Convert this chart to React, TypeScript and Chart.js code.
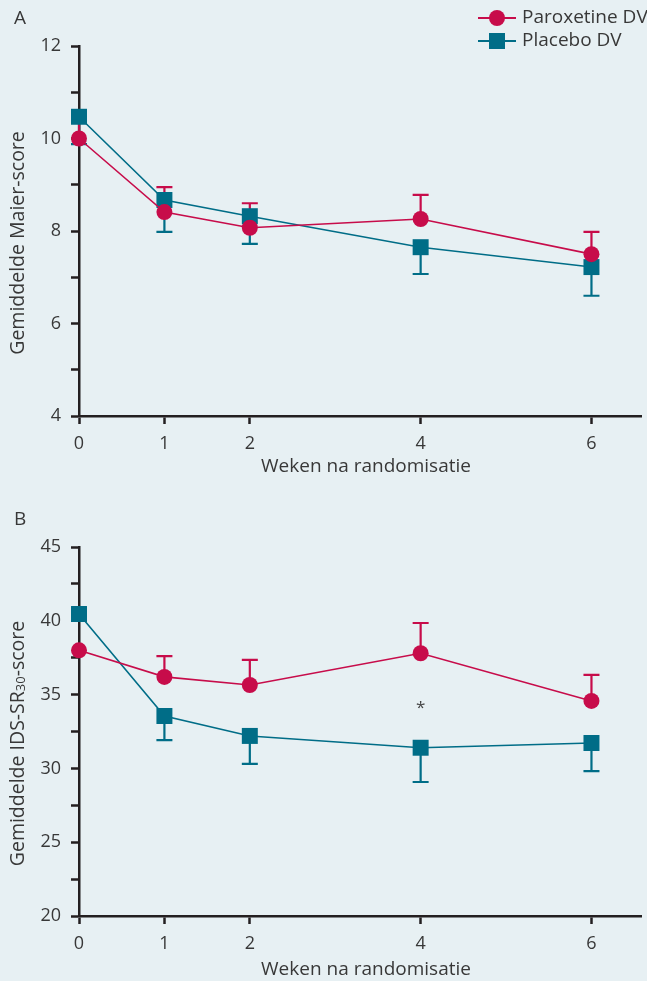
import React, { useEffect, useRef } from "react";
import { Chart, registerables } from "chart.js";

Chart.register(...registerables);

// ---- Data ----
const weeks = [0, 1, 2, 4, 6];
const xTickValues = [0, 1, 2, 4, 6];

// Panel A: Gemiddelde Maier-score
const maierParoxetine = [10.0, 8.41, 8.07, 8.26, 7.5];
const maierParoxetineUpper = [10.55, 8.95, 8.6, 8.78, 7.98];
const maierPlacebo = [10.47, 8.67, 8.32, 7.65, 7.22];
const maierPlaceboLower = [9.88, 7.98, 7.72, 7.07, 6.6];

// Panel B: Gemiddelde IDS-SR30-score
const idsParoxetine = [38.0, 36.2, 35.65, 37.8, 34.57];
const idsParoxetineUpper = [38.0, 37.6, 37.35, 39.85, 36.33];
const idsPlacebo = [40.46, 33.55, 32.2, 31.4, 31.72];
const idsPlaceboLower = [40.46, 31.92, 30.3, 29.08, 29.82];

const seriesNames = ["Paroxetine DV", "Placebo DV"];
const xTitle = "Weken na randomisatie";

const RED = "#c70c4a";
const TEAL = "#006d87";
const AXIS = "#231f20";
const TEXT = "#383838";
const BG = "#e7f0f3";
const FONT = "'Open Sans', Lato, sans-serif";

type PanelProps = {
  letter: string;
  yMin: number;
  yMax: number;
  yStep: number;
  yLabelStep: number;
  parox: number[];
  paroxUpper: number[];
  placebo: number[];
  placeboLower: number[];
  yTitleParts: { text: string; sub?: boolean }[];
  height: number;
  areaTop: number;
  areaBottom: number;
  showLegend: boolean;
  star?: { x: number; y: number };
};

function Panel(p: PanelProps) {
  const ref = useRef<HTMLCanvasElement | null>(null);
  useEffect(() => {
    if (!ref.current) return;
    const errPlugin = {
      id: "errbars",
      beforeDatasetsDraw(chart: any) {
        const ctx = chart.ctx;
        const xs = chart.scales.x;
        const ys = chart.scales.y;
        const draw = (vals: number[], ends: number[], color: string) => {
          ctx.save();
          ctx.strokeStyle = color;
          ctx.lineWidth = 2.2;
          vals.forEach((v, i) => {
            if (ends[i] === v) return;
            const x = xs.getPixelForValue(weeks[i]);
            const y0 = ys.getPixelForValue(v);
            const y1 = ys.getPixelForValue(ends[i]);
            ctx.beginPath();
            ctx.moveTo(x, y0);
            ctx.lineTo(x, y1);
            ctx.moveTo(x - 8, y1);
            ctx.lineTo(x + 8, y1);
            ctx.stroke();
          });
          ctx.restore();
        };
        draw(p.placebo, p.placeboLower, TEAL);
        draw(p.parox, p.paroxUpper, RED);
      },
      afterDraw(chart: any) {
        const ctx = chart.ctx;
        const ca = chart.chartArea;
        ctx.save();
        ctx.fillStyle = TEXT;
        // panel letter
        ctx.font = `19px ${FONT}`;
        ctx.textAlign = "left";
        ctx.textBaseline = "middle";
        ctx.fillText(p.letter, 14, p.letter === "A" ? 19 : 30);
        // x title
        ctx.font = `19px ${FONT}`;
        ctx.textAlign = "center";
        ctx.textBaseline = "middle";
        ctx.fillText(xTitle, 366, ca.bottom + (p.letter === "A" ? 51 : 54));
        // y title (rotated)
        ctx.translate(18, (ca.top + ca.bottom) / 2 + 12);
        ctx.rotate(-Math.PI / 2);
        const big = `19.5px ${FONT}`;
        const small = `13px ${FONT}`;
        let total = 0;
        p.yTitleParts.forEach((part) => {
          ctx.font = part.sub ? small : big;
          total += ctx.measureText(part.text).width;
        });
        let cx = -total / 2;
        ctx.textAlign = "left";
        p.yTitleParts.forEach((part) => {
          ctx.font = part.sub ? small : big;
          ctx.fillText(part.text, cx, part.sub ? 3 : 0);
          cx += ctx.measureText(part.text).width;
        });
        ctx.restore();
        // star
        if (p.star) {
          ctx.save();
          ctx.fillStyle = "#444";
          ctx.font = `17px ${FONT}`;
          ctx.textAlign = "center";
          ctx.textBaseline = "middle";
          ctx.fillText("*", chart.scales.x.getPixelForValue(p.star.x), chart.scales.y.getPixelForValue(p.star.y) + 3);
          ctx.restore();
        }
        // legend
        if (p.showLegend) {
          ctx.save();
          const items = [
            { name: seriesNames[0], color: RED, style: "circle", y: 18 },
            { name: seriesNames[1], color: TEAL, style: "rect", y: 41 },
          ];
          items.forEach((it) => {
            ctx.strokeStyle = it.color;
            ctx.fillStyle = it.color;
            ctx.lineWidth = 2;
            ctx.beginPath();
            ctx.moveTo(478, it.y);
            ctx.lineTo(516, it.y);
            ctx.stroke();
            if (it.style === "circle") {
              ctx.beginPath();
              ctx.arc(497, it.y, 8, 0, Math.PI * 2);
              ctx.fill();
            } else {
              ctx.fillRect(489, it.y - 8, 16, 16);
            }
            ctx.fillStyle = TEXT;
            ctx.font = `19px ${FONT}`;
            ctx.textAlign = "left";
            ctx.textBaseline = "middle";
            ctx.fillText(it.name, 522, it.y);
          });
          ctx.restore();
        }
      },
    };

    const chart = new Chart(ref.current, {
      type: "line",
      data: {
        datasets: [
          {
            label: seriesNames[0],
            data: weeks.map((w, i) => ({ x: w, y: p.parox[i] })),
            borderColor: RED,
            backgroundColor: RED,
            borderWidth: 1.6,
            pointStyle: "circle",
            pointRadius: 8,
            pointBorderWidth: 0,
            pointHoverRadius: 8,
            clip: false,
          },
          {
            label: seriesNames[1],
            data: weeks.map((w, i) => ({ x: w, y: p.placebo[i] })),
            borderColor: TEAL,
            backgroundColor: TEAL,
            borderWidth: 1.6,
            pointStyle: "rect",
            pointRadius: 11.3,
            pointBorderWidth: 0,
            pointHoverRadius: 11.3,
            clip: false,
          },
        ],
      },
      options: {
        animation: false,
        responsive: false,
        maintainAspectRatio: false,
        layout: { autoPadding: false, padding: { top: p.areaTop, left: 0, right: 6, bottom: 0 } },
        plugins: { legend: { display: false }, tooltip: { enabled: false } },
        scales: {
          x: {
            type: "linear",
            min: 0,
            max: 6.58,
            afterBuildTicks: (s: any) => {
              s.ticks = xTickValues.map((v) => ({ value: v }));
            },
            afterFit: (s: any) => {
              s.height = p.height - p.areaBottom;
              s.paddingLeft = 0;
              s.paddingRight = 0;
            },
            grid: {
              drawOnChartArea: false,
              drawTicks: true,
              tickLength: 8,
              tickWidth: 2.5,
              tickColor: AXIS,
            },
            border: { color: AXIS, width: 2.5 },
            ticks: {
              color: TEXT,
              font: { family: FONT, size: 18 },
              padding: 9,
              callback: (v: any) => String(v),
            },
          },
          y: {
            type: "linear",
            min: p.yMin,
            max: p.yMax,
            afterFit: (s: any) => {
              s.width = 79;
              s.paddingTop = 0;
              s.paddingBottom = 0;
            },
            grid: {
              drawOnChartArea: false,
              drawTicks: true,
              tickLength: 8,
              tickWidth: 2.5,
              tickColor: AXIS,
            },
            border: { color: AXIS, width: 2.5 },
            ticks: {
              stepSize: p.yStep,
              color: TEXT,
              font: { family: FONT, size: 18 },
              padding: 10,
              callback: (v: any) => {
                const n = Number(v);
                return Math.abs(n / p.yLabelStep - Math.round(n / p.yLabelStep)) < 1e-6 ? String(n) : "";
              },
            },
          },
        },
      },
      plugins: [errPlugin],
    } as any);
    return () => chart.destroy();
  }, []);
  return <canvas ref={ref} width={647} height={p.height} style={{ display: "block", width: 647, height: p.height }} />;
}

export default function App() {
  return (
    <div style={{ position: "fixed", left: 0, top: 0, width: 647, height: 981, background: BG }}>
      <Panel
        letter="A"
        yMin={4}
        yMax={12}
        yStep={1}
        yLabelStep={2}
        parox={maierParoxetine}
        paroxUpper={maierParoxetineUpper}
        placebo={maierPlacebo}
        placeboLower={maierPlaceboLower}
        yTitleParts={[{ text: "Gemiddelde Maier-score" }]}
        height={490}
        areaTop={46}
        areaBottom={416}
        showLegend={true}
      />
      <Panel
        letter="B"
        yMin={20}
        yMax={45}
        yStep={2.5}
        yLabelStep={5}
        parox={idsParoxetine}
        paroxUpper={idsParoxetineUpper}
        placebo={idsPlacebo}
        placeboLower={idsPlaceboLower}
        yTitleParts={[{ text: "Gemiddelde IDS-SR" }, { text: "30", sub: true }, { text: "-score" }]}
        height={491}
        areaTop={57}
        areaBottom={426}
        showLegend={false}
        star={{ x: 4, y: 34.3 }}
      />
    </div>
  );
}
